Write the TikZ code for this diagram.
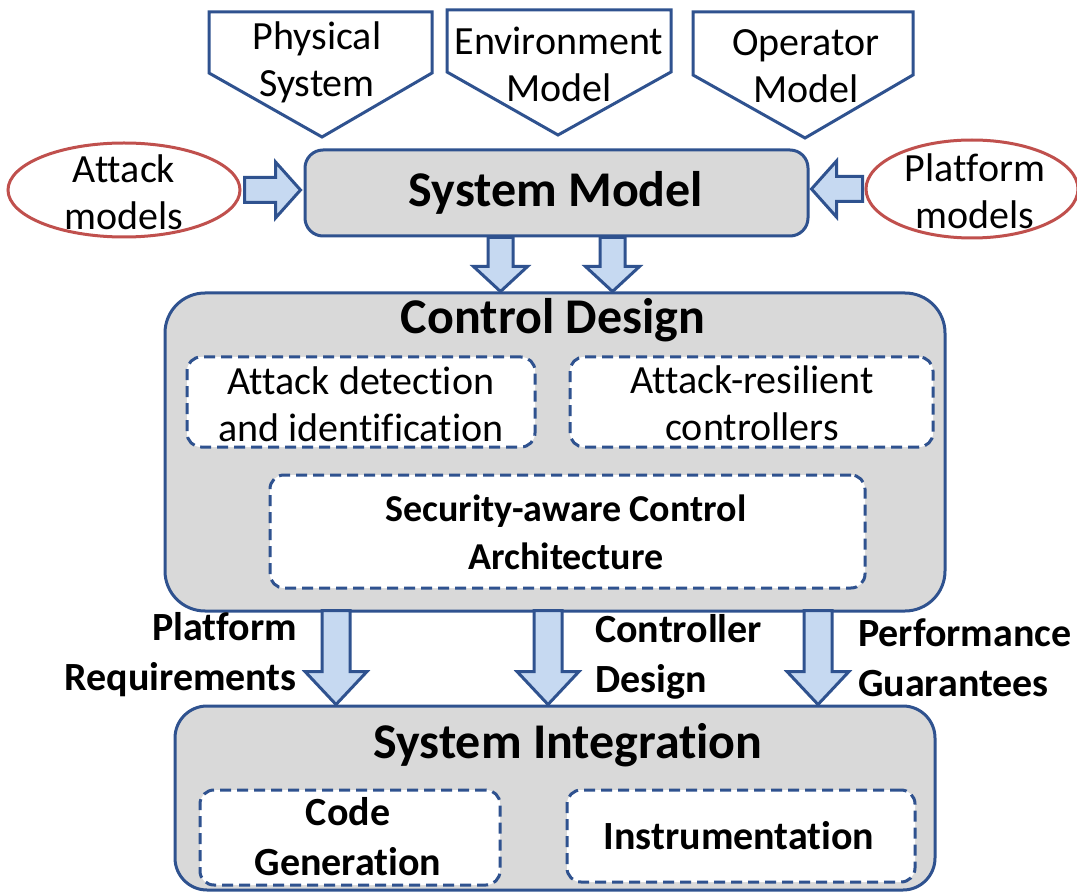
\documentclass[tikz,border=0pt]{standalone}
\usepackage{fontspec}
\setmainfont[Ligatures=NoCommon]{Carlito}
\usetikzlibrary{shapes.geometric,calc}
\definecolor{bblue}{RGB}{47,82,143}
\definecolor{afill}{RGB}{198,217,241}
\definecolor{gfill}{RGB}{217,217,217}
\definecolor{ered}{RGB}{192,80,77}
\tikzset{
  txt/.style={align=center,font=\fontsize{40}{47}\selectfont,inner sep=0pt},
  btxt/.style={align=center,font=\bfseries\fontsize{40}{50}\selectfont,inner sep=0pt},
  bigbox/.style={draw=bblue,line width=3pt,fill=gfill,rounded corners=#1},
  dbox/.style={draw=bblue,line width=3pt,fill=white,dash pattern=on 11pt off 6pt,rounded corners=14pt},
  pent/.style={draw=bblue,line width=3pt,fill=white,line join=miter},
  barrow/.style={draw=bblue,line width=3pt,fill=afill,line join=miter},
  ell/.style={draw=ered,line width=3pt,fill=white,ellipse,inner sep=0pt}
}
\newcommand\bigdownarrow[2]{\draw[barrow] let \p1=(#1),\p2=(#2) in
  (\x1-14pt,\y1) -- (\x1+14pt,\y1) -- (\x1+14pt,\y2+33pt) -- (\x1+31pt,\y2+33pt) -- (\x1,\y2)
  -- (\x1-31pt,\y2+33pt) -- (\x1-14pt,\y2+33pt) -- cycle;}
\newcommand\smalldownarrow[2]{\draw[barrow] let \p1=(#1),\p2=(#2) in
  (\x1-12.5pt,\y1) -- (\x1+12.5pt,\y1) -- (\x1+12.5pt,\y2+25pt) -- (\x1+27pt,\y2+25pt) -- (\x1,\y2)
  -- (\x1-27pt,\y2+25pt) -- (\x1-12.5pt,\y2+25pt) -- cycle;}
\newcommand\rightblockarrow[2]{\draw[barrow] let \p1=(#1),\p2=(#2) in
  (\x1,\y1-12.5pt) -- (\x2-25pt,\y1-12.5pt) -- (\x2-25pt,\y1-28pt) -- (\x2,\y1)
  -- (\x2-25pt,\y1+28pt) -- (\x2-25pt,\y1+12.5pt) -- (\x1,\y1+12.5pt) -- cycle;}
\newcommand\leftblockarrow[2]{\draw[barrow] let \p1=(#1),\p2=(#2) in
  (\x1,\y1-12.5pt) -- (\x2+25pt,\y1-12.5pt) -- (\x2+25pt,\y1-28pt) -- (\x2,\y1)
  -- (\x2+25pt,\y1+28pt) -- (\x2+25pt,\y1+12.5pt) -- (\x1,\y1+12.5pt) -- cycle;}
\begin{document}
\begin{tikzpicture}[x=1pt,y=-1pt]
\useasboundingbox (0,0) rectangle (1077,893);
\fill[white] (0,0) rectangle (1077,893);

% top pentagons
\draw[pent] (209,12) -- (432,12) -- (432,73) -- (322,137) -- (209,73) -- cycle;
\node[txt] (ps) at (317,62) {Physical\\System};
\draw[pent] (447,10) -- (671,10) -- (671,72) -- (558,135) -- (447,72) -- cycle;
\node[txt] (em) at (559,64) {Environment\\Model};
\draw[pent] (693,12) -- (913,12) -- (913,75) -- (805,138) -- (693,75) -- cycle;
\node[txt] (om) at (806,66) {Operator\\Model};

% system model
\node[bigbox=18pt,minimum width=503pt,minimum height=86pt] (sm) at (556.5,193) {};
\node[btxt,font=\bfseries\fontsize{50}{60}\selectfont] (smt) at (556,193) {System Model};

% ellipses
\node[ell,minimum width=232pt,minimum height=94pt] (am) at (124,190) {};
\node[txt] (amt) at (124,192) {Attack\\models};
\node[ell,minimum width=212pt,minimum height=98pt] (pm) at (972,189) {};
\node[txt] (pmt) at (975,191) {Platform\\models};

\rightblockarrow{$(am.east)+(3,0)$}{$(sm.west)+(-3,0)$}
\leftblockarrow{$(pm.west)+(-2,0)$}{$(sm.east)+(2,0)$}

% control design
\node[bigbox=40pt,minimum width=780pt,minimum height=318pt] (cd) at (555,452) {};
\node[btxt,font=\bfseries\fontsize{50}{60}\selectfont] (cdt) at (553,320) {Control Design};
\smalldownarrow{$(sm.south)+(-56,0)$}{$(cd.north)+(-55,0)$}
\smalldownarrow{$(sm.south)+(56,0)$}{$(cd.north)+(57,0)$}

\node[dbox,minimum width=348pt,minimum height=90pt] (ad) at (361,402) {};
\node[txt] (adt) at (361,404) {Attack detection\\and identification};
\node[dbox,minimum width=363pt,minimum height=90pt] (ar) at (751.5,402) {};
\node[txt] (art) at (752,403) {Attack-resilient\\controllers};
\node[dbox,minimum width=595pt,minimum height=113pt] (sa) at (567.5,531.5) {};
\node[btxt,font=\bfseries\fontsize{38}{48}\selectfont] (sat) at (566,532) {Security-aware Control\\Architecture};

% system integration
\node[bigbox=32pt,minimum width=760pt,minimum height=184pt] (si) at (555,798) {};
\node[btxt,font=\bfseries\fontsize{50}{60}\selectfont] (sit) at (568,745) {System Integration};
\node[dbox,minimum width=300pt,minimum height=95pt] (cg) at (350,837.5) {};
\node[btxt] (cgt) at (348,837) {Code\\Generation};
\node[dbox,minimum width=348pt,minimum height=92pt] (in) at (741,836) {};
\node[btxt] (int) at (739,836) {Instrumentation};

% big arrows
\bigdownarrow{$(cd.south)+(-219,-2)$}{$(si.north)+(-219,0)$}
\bigdownarrow{$(cd.south)+(-7,-2)$}{$(si.north)+(-7,0)$}
\bigdownarrow{$(cd.south)+(263,-2)$}{$(si.north)+(263,0)$}

% labels
\node[btxt,align=right,anchor=east] (l1) at (297,655) {Platform\\Requirements};
\node[btxt,align=left,anchor=west] (l2) at (595,657) {Controller\\Design};
\node[btxt,align=left,anchor=west] (l3) at (858,658) {Performance\\Guarantees};
\end{tikzpicture}
\end{document}
